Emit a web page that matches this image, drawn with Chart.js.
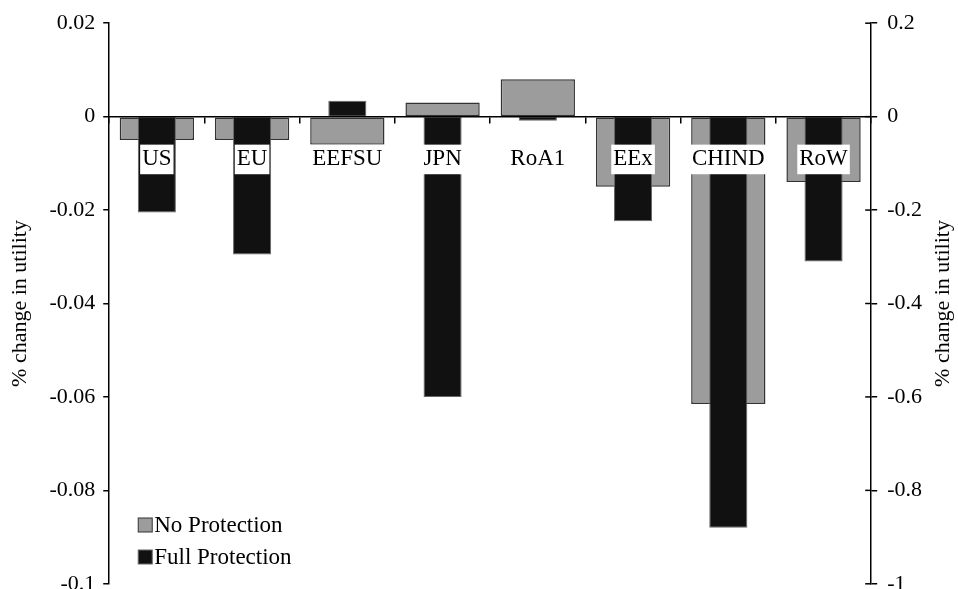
<!DOCTYPE html>
<html>
<head>
<meta charset="utf-8">
<script src="https://cdn.jsdelivr.net/npm/chart.js@4/dist/chart.umd.min.js"></script>
<style>
  html, body { margin: 0; padding: 0; background: #fff; overflow: hidden; }
  #wrap { width: 958px; height: 607px; }
</style>
</head>
<body>
<div id="wrap"><canvas id="utilityChart"></canvas></div>
<script>
const regions = ['US', 'EU', 'EEFSU', 'JPN', 'RoA1', 'EEx', 'CHIND', 'RoW']
// left axis units
const noProtection = [-0.005, -0.005, -0.006, 0.003, 0.008, -0.015, -0.0615, -0.014]
// right axis units
const fullProtection = [-0.205, -0.295, 0.034, -0.60, -0.009, -0.224, -0.88, -0.31]

const leftTicks = { min: -0.1, max: 0.02, step: 0.02 }
const rightTicks = { min: -1, max: 0.2, step: 0.2 }
const axisTitle = '% change in utility'

const serif = "'Liberation Serif', 'Times New Roman', serif"
Chart.defaults.font.family = serif
Chart.defaults.font.size = 22
Chart.defaults.color = '#000'

// legend in the lower left corner + right axis title + crossing ticks on right axis
const extras = {
    id: 'extras',
    afterDraw(chart) {
        const ctx = chart.ctx
        const area = chart.chartArea
        const y1 = chart.scales.y1
        ctx.save()
        ctx.strokeStyle = '#000'
        ctx.lineWidth = 1.5
        y1.ticks.forEach(t => {
            const py = y1.getPixelForValue(t.value)
            ctx.beginPath()
            ctx.moveTo(area.right - 6, py)
            ctx.lineTo(area.right, py)
            ctx.stroke()
        })

        ctx.font = `22px ${serif}`
        ctx.fillStyle = '#000'
        ctx.textAlign = 'center'
        ctx.textBaseline = 'middle'
        ctx.translate(943, (area.top + area.bottom) / 2)
        ctx.rotate(-Math.PI / 2)
        ctx.fillText(axisTitle, 0, 0)
        ctx.restore()

        ctx.save()
        ctx.font = `23px ${serif}`
        ctx.textBaseline = 'middle'
        ctx.textAlign = 'left'
        chart.data.datasets.forEach((ds, i) => {
            const cy = 525 + i * 32
            const bx = area.left + 29
            ctx.fillStyle = ds.backgroundColor
            ctx.fillRect(bx, cy - 7, 14, 14)
            ctx.strokeStyle = ds.borderColor
            ctx.lineWidth = 1
            ctx.strokeRect(bx, cy - 7, 14, 14)
            ctx.fillStyle = '#000'
            ctx.fillText(ds.label, bx + 16, cy + 1)
        })
        ctx.restore()
    }
}

new Chart(document.getElementById('utilityChart'), {
    type: 'bar',
    data: {
        labels: regions,
        datasets: [{
            label: 'No Protection',
            data: noProtection,
            yAxisID: 'y',
            backgroundColor: '#9c9c9c',
            borderColor: '#333333',
            borderWidth: 1.5,
            borderSkipped: false,
            barPercentage: 0.78,
            categoryPercentage: 1,
            grouped: false,
            order: 2
        }, {
            label: 'Full Protection',
            data: fullProtection,
            yAxisID: 'y1',
            backgroundColor: '#111111',
            borderColor: '#666666',
            borderWidth: 1,
            borderSkipped: false,
            barPercentage: 0.40,
            categoryPercentage: 1,
            grouped: false,
            order: 1
        }]
    },
    options: {
        responsive: true,
        maintainAspectRatio: false,
        animation: false,
        layout: { padding: { left: 3, right: 26, top: 9, bottom: 0 } },
        plugins: {
            legend: { display: false },
            tooltip: { enabled: false }
        },
        scales: {
            x: {
                position: { y: 0 },
                offset: true,
                border: { display: true, color: '#000', width: 1.5, z: 1 },
                grid: { drawOnChartArea: false, offset: true, tickLength: 6, color: '#000', lineWidth: 1.5 },
                ticks: {
                    z: 1,
                    font: { size: 23 },
                    padding: 23,
                    autoSkip: false,
                    maxRotation: 0,
                    showLabelBackdrop: true,
                    backdropColor: '#fff',
                    backdropPadding: { x: 2, y: 1 }
                }
            },
            y: {
                position: 'left',
                min: leftTicks.min,
                max: leftTicks.max,
                border: { display: true, color: '#000', width: 1.5 },
                grid: { drawOnChartArea: false, tickLength: 6, color: '#000', lineWidth: 1.5 },
                ticks: {
                    stepSize: leftTicks.step,
                    padding: 8,
                    callback: v => Number(v.toFixed(2)).toString()
                },
                title: { display: true, text: axisTitle, padding: { top: 4, bottom: 8 } }
            },
            y1: {
                position: 'right',
                min: rightTicks.min,
                max: rightTicks.max,
                border: { display: true, color: '#000', width: 1.5 },
                grid: { drawOnChartArea: false, tickLength: 6, color: '#000', lineWidth: 1.5 },
                ticks: {
                    stepSize: rightTicks.step,
                    padding: 10,
                    callback: v => Number(v.toFixed(1)).toString()
                }
            }
        }
    },
    plugins: [extras]
})
</script>
</body>
</html>
